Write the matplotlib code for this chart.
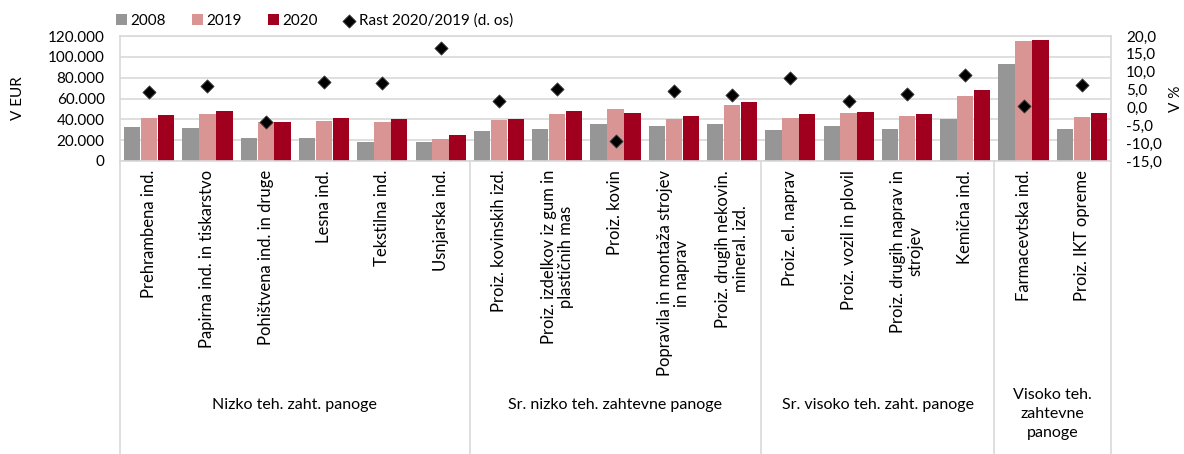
import matplotlib
matplotlib.use("Agg")
import matplotlib.pyplot as plt
import matplotlib.transforms as mtransforms
import numpy as np

# data
categories = [
    "Prehrambena ind.",
    "Papirna ind. in tiskarstvo",
    "Pohištvena ind. in druge",
    "Lesna ind.",
    "Tekstilna ind.",
    "Usnjarska ind.",
    "Proiz. kovinskih izd.",
    "Proiz. izdelkov iz gum in\nplastičnih mas",
    "Proiz. kovin",
    "Popravila in montaža strojev\nin naprav",
    "Proiz. drugih nekovin.\nmineral. izd.",
    "Proiz. el. naprav",
    "Proiz. vozil in plovil",
    "Proiz. drugih naprav in\nstrojev",
    "Kemična ind.",
    "Farmacevtska ind.",
    "Proiz. IKT opreme",
]
groups = [
    "Nizko teh. zaht. panoge",
    "Sr. nizko teh. zahtevne panoge",
    "Sr. visoko teh. zaht. panoge",
    "Visoko teh.\nzahtevne\npanoge",
]
group_sizes = [6, 5, 4, 2]

v2008 = [32800, 31500, 22400, 22400, 18500, 17800, 28900, 30500, 35700, 34000,
         35700, 29800, 34000, 30500, 40200, 92800, 31100]
v2019 = [41500, 45100, 37600, 38600, 37600, 21400, 38900, 45100, 49900, 40500,
         54200, 41500, 45700, 43500, 62000, 115500, 42500]
v2020 = [43800, 48300, 37300, 41500, 40500, 25000, 39900, 48000, 45700, 42800,
         56400, 45400, 46700, 45400, 68400, 116400, 45700]
growth = [4.2, 6.0, -4.0, 7.0, 6.8, 16.7, 1.7, 5.2, -9.5, 4.5,
          3.4, 8.3, 1.9, 3.7, 9.1, 0.5, 6.2]

c2008 = "#969696"
c2019 = "#d99594"
c2020 = "#a0001e"
grid_c = "#d9d9d9"

plt.rcParams["font.family"] = ["Lato", "DejaVu Sans"]

W, H = 1184, 454
fig = plt.figure(figsize=(W / 100, H / 100), dpi=100)
left, right, top, bottom = 120, 1111, 36, 161
ax = fig.add_axes([left / W, 1 - bottom / H, (right - left) / W, (bottom - top) / H])

x = np.arange(len(categories))
w = 0.29
ax.bar(x - w, v2008, w * 0.97, color=c2008, label="2008", zorder=2)
ax.bar(x, v2019, w * 0.97, color=c2019, label="2019", zorder=2)
ax.bar(x + w, v2020, w * 0.97, color=c2020, label="2020", zorder=2)

ax.set_xlim(-0.5, len(categories) - 0.5)
ax.set_ylim(0, 120000)
ax.set_yticks(np.arange(0, 120001, 20000))
ax.set_yticklabels(["0" if v == 0 else f"{v:,}".replace(",", ".") for v in range(0, 120001, 20000)])
ax.yaxis.grid(True, color=grid_c, linewidth=1.2, zorder=0)
ax.set_axisbelow(True)
ax.set_xticks([])
ax.tick_params(axis="y", length=0, labelsize=11, pad=11)
for s in ax.spines.values():
    s.set_color(grid_c)
    s.set_linewidth(1.2)

ax2 = ax.twinx()
ax2.scatter(x, growth, marker="D", s=45, color="black", edgecolor="#404040",
            linewidth=0.6, zorder=4, label="Rast 2020/2019 (d. os)")
ax2.set_ylim(-15, 20)
ax2.set_yticks(np.arange(-15, 21, 5))
ax2.set_yticklabels([f"{v:.1f}".replace(".", ",") for v in np.arange(-15, 21, 5)])
ax2.tick_params(axis="y", length=0, labelsize=11, pad=11)
for s in ax2.spines.values():
    s.set_visible(False)

# axis titles
ymid = 1 - (top + bottom) / 2 / H
fig.text(18 / W, ymid, "V EUR", rotation=90, ha="center", va="center", fontsize=11)
fig.text(1176 / W, ymid, "V %", rotation=90, ha="center", va="center", fontsize=11)

# category labels and group separators below the axes
trans = mtransforms.blended_transform_factory(ax.transData, fig.transFigure)
for i, lab in enumerate(categories):
    ax.text(i, 1 - 170 / H, lab, rotation=90, ha="center", va="top",
            multialignment="center", fontsize=12, transform=trans,
            linespacing=1.1)

bounds = np.concatenate([[0], np.cumsum(group_sizes)]) - 0.5
ybot = 1 - bottom / H
for b in bounds:
    ax.plot([b, b], [ybot, 0], color=grid_c, linewidth=1.2, transform=trans,
            clip_on=False)
for g, lo, hi in zip(groups, bounds[:-1], bounds[1:]):
    if "\n" in g:
        ax.text((lo + hi) / 2, 1 - 388 / H, g, ha="center", va="top",
                multialignment="center", fontsize=11.5, transform=trans,
                linespacing=1.45)
    else:
        ax.text((lo + hi) / 2, 1 - 405 / H, g, ha="center", va="center",
                fontsize=11.5, transform=trans)

h1, l1 = ax.get_legend_handles_labels()
h2, l2 = ax2.get_legend_handles_labels()
fig.legend(h1 + h2, l1 + l2, loc="center left", bbox_to_anchor=(110 / W, 1 - 21 / H),
           ncol=4, frameon=False, fontsize=11, handlelength=0.7, handleheight=0.7,
           handletextpad=0.25, columnspacing=1.7, borderaxespad=0)

fig.savefig("out.png", dpi=100)
